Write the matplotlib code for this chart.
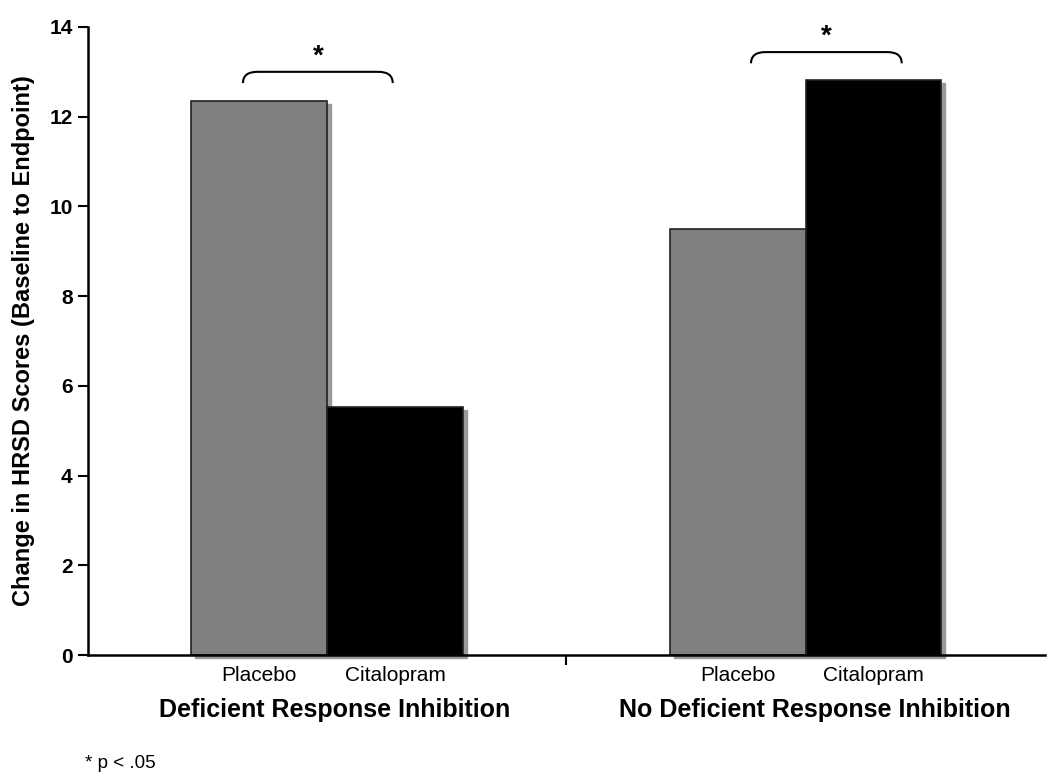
import numpy as np
import matplotlib.pyplot as plt
from matplotlib.patches import Rectangle
from matplotlib.path import Path
from matplotlib.patches import PathPatch

plt.rcParams['font.family'] = ['Liberation Sans', 'DejaVu Sans']

groups = ["Deficient Response Inhibition", "No Deficient Response Inhibition"]
treatments = ["Placebo", "Citalopram"]
placebo = [12.35, 9.5]
citalopram = [5.53, 12.82]
colors = ["#808080", "#000000"]

fig = plt.figure(figsize=(10.5, 7.84), dpi=100)
ax = fig.add_axes([0.0838, 0.1645, 0.9112, 0.8011])

width = 0.284
centers = np.array([0.5, 1.5])

# little drop shadow behind each bar
dx, dy = 0.008, -0.07
for vals, off, col in [(placebo, -width / 2, colors[0]), (citalopram, width / 2, colors[1])]:
    for c, v in zip(centers, vals):
        ax.add_patch(Rectangle((c + off - width / 2 + dx, dy), width, v, color="#9a9a9a",
                               zorder=1, clip_on=False))
    ax.bar(centers + off, vals, width, color=col, edgecolor="#222222", linewidth=1.2, zorder=2)

ax.set_xlim(0, 2)
ax.set_ylim(0, 14)
ax.set_yticks(range(0, 15, 2))
ax.set_xticks([1])
ax.set_xticklabels([])
ax.tick_params(axis='y', labelsize=15, width=1.5, length=7, pad=4)
ax.tick_params(axis='x', width=1.5, length=7)
for lab in ax.get_yticklabels():
    lab.set_fontweight('bold')
ax.spines['top'].set_visible(False)
ax.spines['right'].set_visible(False)
ax.spines['left'].set_linewidth(1.8)
ax.spines['bottom'].set_linewidth(1.8)
ax.set_ylabel("Change in HRSD Scores (Baseline to Endpoint)", fontsize=17, fontweight='bold',
              labelpad=10)

# treatment labels under each bar
for c in centers:
    ax.text(c - width / 2, -0.25, treatments[0], ha='center', va='top', fontsize=15)
    ax.text(c + width / 2, -0.25, treatments[1], ha='center', va='top', fontsize=15)
ax.text(0.515, -0.95, groups[0], ha='center', va='top', fontsize=18, fontweight='bold')
ax.text(1.52, -0.95, groups[1], ha='center', va='top', fontsize=18, fontweight='bold')


def bracket(x0, x1, y, h):
    r = 0.03
    verts = [(x0, y - h), (x0, y), (x0 + r, y), (x1 - r, y), (x1, y), (x1, y - h)]
    codes = [Path.MOVETO, Path.CURVE3, Path.CURVE3, Path.LINETO, Path.CURVE3, Path.CURVE3]
    ax.add_patch(PathPatch(Path(verts, codes), fill=False, lw=1.5, color='black', clip_on=False))
    ax.text((x0 + x1) / 2, y + 0.05, "*", ha='center', va='bottom', fontsize=20, fontweight='bold')


bracket(0.324, 0.637, 13.0, 0.25)
bracket(1.386, 1.701, 13.44, 0.25)

fig.text(0.081, 0.021, "* p < .05", fontsize=13.5)

fig.savefig("out.png", dpi=100)
